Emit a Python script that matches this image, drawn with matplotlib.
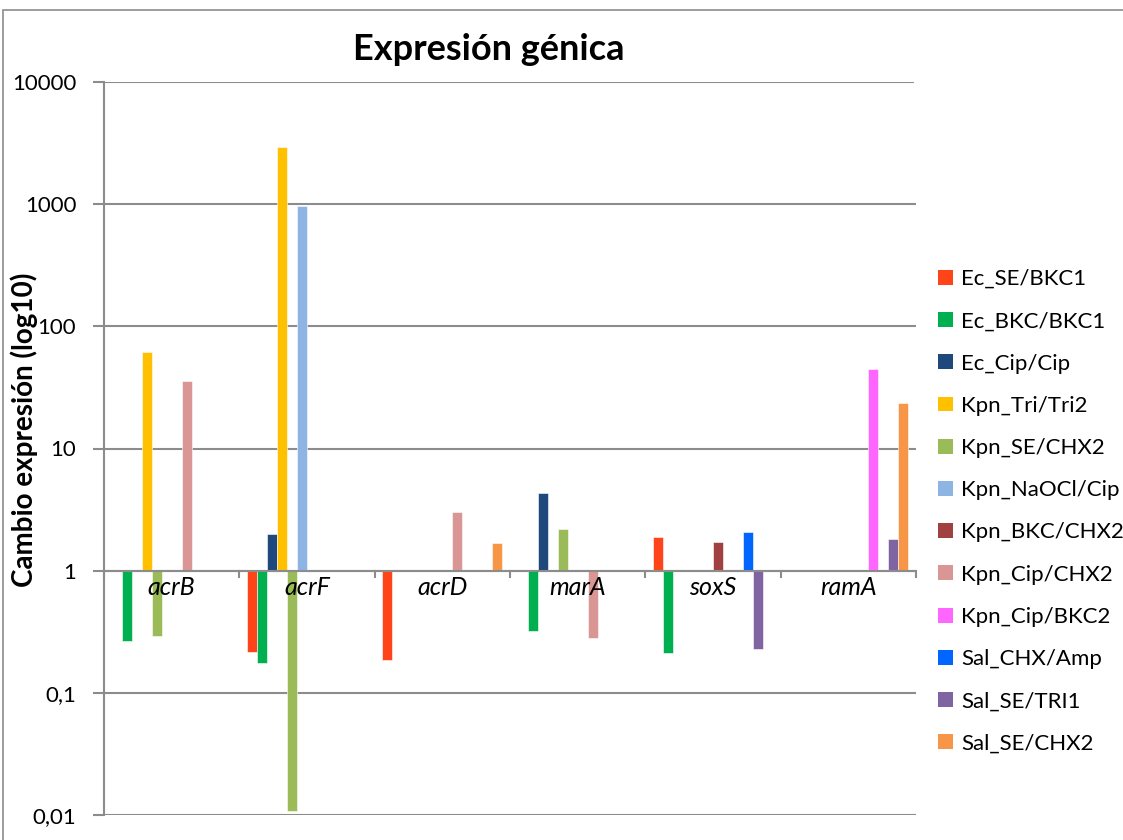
import numpy as np
import matplotlib
matplotlib.use("Agg")
import matplotlib.pyplot as plt
from matplotlib.patches import Patch, Rectangle

plt.rcParams['font.family'] = ['Lato', 'DejaVu Sans']

genes = ["acrB", "acrF", "acrD", "marA", "soxS", "ramA"]
series = ["Ec_SE/BKC1", "Ec_BKC/BKC1", "Ec_Cip/Cip", "Kpn_Tri/Tri2", "Kpn_SE/CHX2",
          "Kpn_NaOCl/Cip", "Kpn_BKC/CHX2", "Kpn_Cip/CHX2", "Kpn_Cip/BKC2",
          "Sal_CHX/Amp", "Sal_SE/TRI1", "Sal_SE/CHX2"]
colors = ["#FF4419", "#00B050", "#1F497D", "#FFC000", "#9BBB59", "#8DB4E2",
          "#A04040", "#D99694", "#FF66FF", "#0066FF", "#8064A2", "#F79646"]
nan = np.nan
# fold change per series, in gene order acrB, acrF, acrD, marA, soxS, ramA
ec_se_bkc1 = [nan, 0.215, 0.187, nan, 1.89, nan]
ec_bkc_bkc1 = [0.264, 0.176, nan, 0.323, 0.21, nan]
ec_cip_cip = [nan, 2.0, nan, 4.32, nan, nan]
kpn_tri_tri2 = [62, 2910, nan, nan, nan, nan]
kpn_se_chx2 = [0.294, 0.0108, nan, 2.2, nan, nan]
kpn_naocl_cip = [nan, 965, nan, nan, nan, nan]
kpn_bkc_chx2 = [nan, nan, nan, nan, 1.72, nan]
kpn_cip_chx2 = [35.6, nan, 3.02, 0.281, nan, nan]
kpn_cip_bkc2 = [nan, nan, nan, nan, nan, 44.9]
sal_chx_amp = [nan, nan, nan, nan, 2.08, nan]
sal_se_tri1 = [nan, nan, nan, nan, 0.23, 1.82]
sal_se_chx2 = [nan, nan, 1.70, nan, nan, 23.6]
values = [ec_se_bkc1, ec_bkc_bkc1, ec_cip_cip, kpn_tri_tri2, kpn_se_chx2,
          kpn_naocl_cip, kpn_bkc_chx2, kpn_cip_chx2, kpn_cip_bkc2,
          sal_chx_amp, sal_se_tri1, sal_se_chx2]
ytick_vals = [0.01, 0.1, 1, 10, 100, 1000, 10000]
ytick_labels = ["0,01", "0,1", "1", "10", "100", "1000", "10000"]

W, H = 1123, 840
fig = plt.figure(figsize=(W / 100, H / 100), dpi=100)
fig.patch.set_facecolor("white")
# chart area border
fig.add_artist(Rectangle((3 / W, -0.1), 1.2, 1 - 10 / H + 0.1, transform=fig.transFigure,
                         fill=False, edgecolor="#8C8C8C", lw=1.2))

ax = fig.add_axes([104 / W, 1 - 815 / H, (916 - 104) / W, (815 - 82) / H])
ax.set_yscale("log")
ax.set_ylim(0.01, 10000)
ax.set_xlim(0, len(genes))

n = len(series)
bw = 0.0739
start = 0.5 - n * bw / 2 + bw / 2
x0 = np.arange(len(genes))
for i, (name, vals, c) in enumerate(zip(series, values, colors)):
    v = np.array(vals, dtype=float)
    ax.bar(x0 + start + i * bw, v - 1, bottom=1, width=bw, color=c, label=name,
           edgecolor="white", linewidth=0.4, zorder=3)

for yv in ytick_vals:
    ax.axhline(yv, color="#8C8C8C", lw=1.5, zorder=1, xmax=913 / 916 if yv == 10000 else 1)
ax.axhline(1, color="#8C8C8C", lw=1.5, zorder=4)
for k in range(len(genes) + 1):
    ax.plot([k, k], [1, 0.88], color="#8C8C8C", lw=1.5, zorder=4, clip_on=False)
for k, g in enumerate(genes):
    ax.text(k + 0.5, 0.735, g, ha="center", va="center", fontsize=18, style="italic", zorder=5)

ax.set_yticks(ytick_vals)
ax.set_yticklabels(ytick_labels, fontsize=16)
ax.yaxis.set_minor_locator(matplotlib.ticker.NullLocator())
ax.tick_params(axis="y", length=8, width=1.5, color="#8C8C8C", pad=12)
ax.set_xticks([])
for s in ["top", "right", "bottom"]:
    ax.spines[s].set_visible(False)
ax.spines["left"].set_color("#8C8C8C")
ax.spines["left"].set_linewidth(1.5)

fig.text(24 / W, 1 - 430 / H, "Cambio expresión (log10)", rotation=90, ha="center",
         va="center", fontsize=20, fontweight="bold")
fig.text(489 / W, 1 - 50 / H, "Expresión génica", ha="center", va="center",
         fontsize=26, fontweight="bold")

handles = [Patch(facecolor=c, edgecolor="none") for c in colors]
fig.legend(handles, series, loc="upper left", bbox_to_anchor=(927 / W, 1 - 258 / H),
           frameon=False, fontsize=16, handlelength=0.65, handleheight=0.65,
           handletextpad=0.4, labelspacing=1.0, borderpad=0)

fig.savefig("out.png", dpi=100, facecolor="white")
